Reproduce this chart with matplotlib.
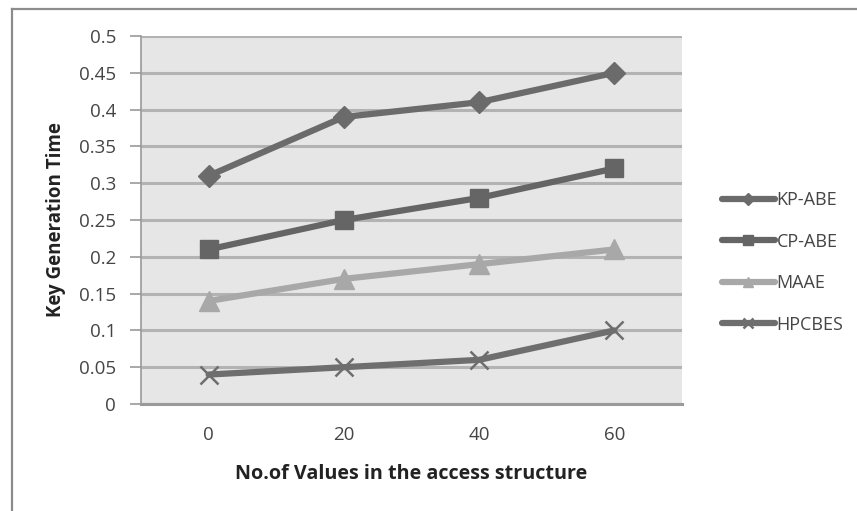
import matplotlib
matplotlib.use("Agg")
import matplotlib.pyplot as plt
from matplotlib.lines import Line2D

# Data
categories = ["0", "20", "40", "60"]
kp_abe = [0.31, 0.39, 0.41, 0.45]
cp_abe = [0.21, 0.25, 0.28, 0.32]
maae = [0.14, 0.17, 0.19, 0.21]
hpcbes = [0.04, 0.05, 0.06, 0.10]
series_names = ["KP-ABE", "CP-ABE", "MAAE", "HPCBES"]
y_ticks = [0, 0.05, 0.1, 0.15, 0.2, 0.25, 0.3, 0.35, 0.4, 0.45, 0.5]
y_tick_labels = ["0", "0.05", "0.1", "0.15", "0.2", "0.25", "0.3", "0.35", "0.4", "0.45", "0.5"]

plt.rcParams["font.family"] = ["Open Sans", "DejaVu Sans"]

W, H = 857, 511
fig = plt.figure(figsize=(W / 100, H / 100), dpi=100)
fig.patch.set_facecolor("white")

# outer chart frame (top and left edges visible)
fig.add_artist(Line2D([12 / W, 12 / W], [0, 1 - 9 / H], transform=fig.transFigure,
                      color="#8c8c8c", lw=1.6))
fig.add_artist(Line2D([12 / W, 1], [1 - 9 / H, 1 - 9 / H], transform=fig.transFigure,
                      color="#8c8c8c", lw=1.6))

left, right, top, bottom = 141, 682, 36, 404
ax = fig.add_axes([left / W, 1 - bottom / H, (right - left) / W, (bottom - top) / H])
ax.set_facecolor("#e6e6e6")

x = list(range(len(categories)))
styles = [
    (kp_abe, "#6b6b6b", "D", 11, 1.0),
    (cp_abe, "#656565", "s", 13, 1.0),
    (maae, "#a8a8a8", "^", 14, 1.0),
    (hpcbes, "#6e6e6e", "x", 13, 1.8),
]
for (vals, col, mk, ms, mew), name in zip(styles, series_names):
    ax.plot(x, vals, color=col, lw=4.5, marker=mk, markersize=ms,
            markeredgewidth=mew, markeredgecolor=col, markerfacecolor=col,
            label=name, solid_capstyle="round", zorder=3)

ax.set_xlim(-0.5, len(categories) - 0.5)
ax.set_ylim(0, 0.5)
ax.set_xticks(x)
ax.set_xticklabels(categories)
ax.set_yticks(y_ticks)
ax.set_yticklabels(y_tick_labels)

ax.grid(axis="y", color="#b3b3b3", lw=2.2, zorder=1)
ax.set_axisbelow(True)
for s in ["top", "right"]:
    ax.spines[s].set_visible(False)
ax.spines["left"].set_color("#9a9a9a")
ax.spines["left"].set_linewidth(1.2)
ax.spines["bottom"].set_color("#9a9a9a")
ax.spines["bottom"].set_linewidth(2.2)

ax.tick_params(axis="y", length=8, width=1.2, color="#9a9a9a", labelsize=13.5,
               labelcolor="#454545", pad=10)
ax.tick_params(axis="x", length=0, labelsize=13.5, labelcolor="#454545", pad=16)

ax.set_ylabel("Key Generation Time", fontsize=13.5, fontweight="bold", color="#222222",
              labelpad=9)
ax.set_xlabel("No.of Values in the access structure", fontsize=14.2, fontweight="bold",
              color="#222222", labelpad=14)

leg = fig.legend(loc="upper left", bbox_to_anchor=(706 / W, 1 - 175 / H),
                 frameon=False, fontsize=13, handlelength=2.9, handletextpad=0.1,
                 labelspacing=1.3, markerscale=0.55)
for t in leg.get_texts():
    t.set_color("#454545")

fig.savefig("out.png", dpi=100)
